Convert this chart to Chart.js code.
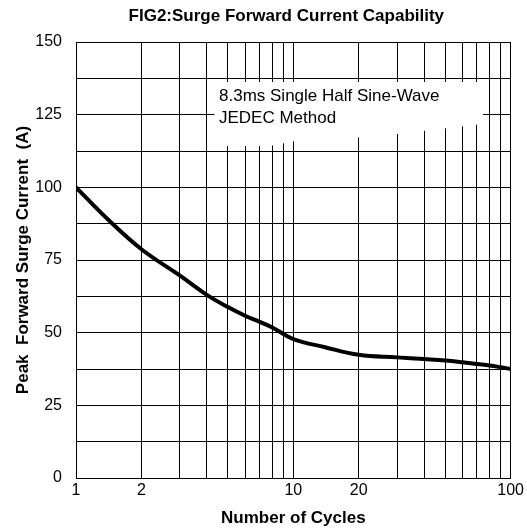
<!DOCTYPE html>
<html>
<head>
<meta charset="utf-8">
<script src="https://cdn.jsdelivr.net/npm/chart.js@4/dist/chart.umd.min.js"></script>
<style>
  html, body { margin: 0; padding: 0; background: #fff; }
</style>
</head>
<body>
<canvas id="surgeChart" width="527" height="532"></canvas>
<script>
// values (number of cycles -> peak surge current, A)
var cycles  = [1, 1.4, 2, 3, 4, 5, 6, 7, 8, 10, 14, 20, 30, 40, 50, 60, 70, 80, 90, 100];
var current = [100, 89, 78.7, 69.7, 63, 58.8, 55.8, 53.7, 51.8, 47.8, 45, 42.4, 41.5, 40.9, 40.4, 39.8, 39.2, 38.7, 38.1, 37.5];

// grid / tick setup
var xGrid   = [1, 2, 3, 4, 5, 6, 7, 8, 9, 10, 20, 30, 40, 50, 60, 70, 80, 90, 100];
var xLabels = [1, 2, 10, 20, 100];
var yLabels = [0, 25, 50, 75, 100, 125, 150];

var chartTitle = "FIG2:Surge Forward Current Capability";
var noteLines = ["8.3ms Single Half Sine-Wave", "JEDEC Method"];

var FONT = "'Liberation Sans', Arial, sans-serif";

var points = cycles.map(function (c, i) { return { x: c, y: current[i] }; });

// title drawn over the plot area (the original isn't centred on the canvas)
var titlePlugin = {
  id: 'figTitle',
  afterDraw: function (chart) {
    var ctx = chart.ctx, a = chart.chartArea;
    ctx.save();
    ctx.font = "bold 17px " + FONT;
    ctx.fillStyle = "#000";
    ctx.textAlign = "center";
    ctx.textBaseline = "alphabetic";
    ctx.fillText(chartTitle, (a.left + a.right) / 2 - 7, 21);
    ctx.restore();
  }
};

// white label box with the test condition text
var notePlugin = {
  id: 'note',
  beforeDatasetsDraw: function (chart) {
    var ctx = chart.ctx;
    ctx.save();
    ctx.fillStyle = "#fff";
    ctx.beginPath();
    ctx.moveTo(214.5, 82);
    ctx.lineTo(483, 82);
    ctx.lineTo(483, 124);
    ctx.lineTo(380, 136);
    ctx.lineTo(295, 141);
    ctx.lineTo(270, 146);
    ctx.lineTo(214.5, 146);
    ctx.closePath();
    ctx.fill();
    ctx.font = "17px " + FONT;
    ctx.fillStyle = "#000";
    ctx.textBaseline = "alphabetic";
    ctx.fillText(noteLines[0], 219, 101);
    ctx.fillText(noteLines[1], 219, 123);
    ctx.restore();
  }
};

var ctx = document.getElementById("surgeChart");
var surgeChart = new Chart(ctx, {
  type: 'line',
  data: {
    datasets: [
      {
        label: "Surge current",
        data: points,
        borderColor: "#000",
        borderWidth: 4,
        pointRadius: 0,
        fill: false,
        tension: 0.4,
        borderCapStyle: 'round',
        borderJoinStyle: 'round'
      }
    ]
  },
  options: {
    responsive: false,
    animation: false,
    devicePixelRatio: 1,
    layout: { padding: { top: 42, right: 16, left: 0, bottom: 0 } },
    plugins: {
      legend: { display: false },
      tooltip: { enabled: false },
      title: { display: false }
    },
    scales: {
      x: {
        type: 'logarithmic',
        min: 1,
        max: 100,
        afterBuildTicks: function (scale) {
          scale.ticks = xGrid.map(function (v) { return { value: v }; });
        },
        afterFit: function (scale) { scale.height = 54; },
        grid: { color: "#000", lineWidth: 1, drawTicks: false },
        border: { display: true, color: "#000", width: 1 },
        ticks: {
          autoSkip: false,
          maxRotation: 0,
          padding: 3,
          color: "#000",
          font: { family: FONT, size: 16 },
          callback: function (v) { return xLabels.indexOf(v) >= 0 ? String(v) : ''; }
        },
        title: {
          display: true,
          text: "Number of Cycles",
          color: "#000",
          font: { family: FONT, size: 17, weight: 'bold' },
          padding: { top: 4, bottom: 3 }
        }
      },
      y: {
        min: 0,
        max: 150,
        afterFit: function (scale) { scale.width = 76; },
        grid: { color: "#000", lineWidth: 1, drawTicks: false },
        border: { display: true, color: "#000", width: 1 },
        ticks: {
          stepSize: 12.5,
          autoSkip: false,
          padding: 14,
          color: "#000",
          font: { family: FONT, size: 16 },
          callback: function (v) { return yLabels.indexOf(v) >= 0 ? String(v) : ''; }
        },
        title: {
          display: true,
          text: "Peak  Forward Surge Current  (A)",
          color: "#000",
          font: { family: FONT, size: 17, weight: 'bold' },
          padding: { top: 13, bottom: 0 }
        }
      }
    }
  },
  plugins: [notePlugin, titlePlugin]
});
</script>
</body>
</html>
